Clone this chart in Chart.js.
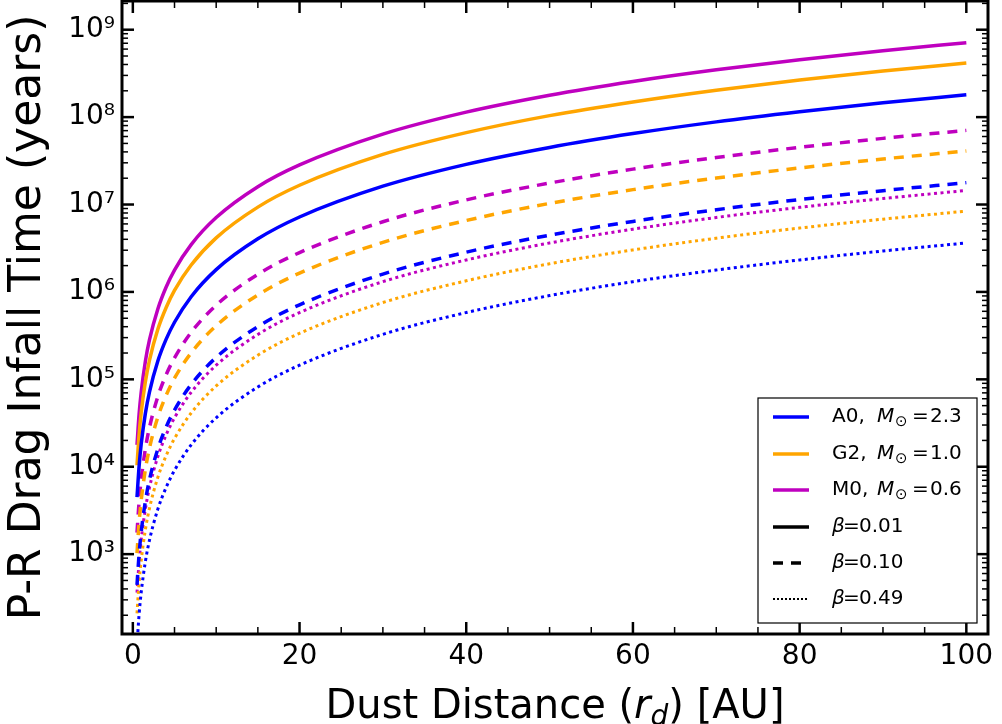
<!DOCTYPE html>
<html>
<head>
<meta charset="utf-8">
<title>P-R Drag Infall Time</title>
<script src="https://cdn.jsdelivr.net/npm/chart.js@4.4.1/dist/chart.umd.min.js"></script>
<style>
  html, body { margin: 0; padding: 0; background: #fff; }
</style>
</head>
<body>
<canvas id="prChart" width="1002" height="724"></canvas>
<script>
// dust distance in AU
const distanceAU = [0.5, 0.75, 1, 1.5, 2, 3, 4, 5, 7, 10, 15, 20, 30, 40, 50, 60, 70, 80, 90, 100];

// infall time in years
const a0Beta001 = [4500, 10100, 18000, 40500, 72000, 162000, 288000, 450000, 882000, 1.8e6, 4.05e6, 7.2e6, 1.62e7, 2.88e7, 4.5e7, 6.48e7, 8.82e7, 1.15e8, 1.46e8, 1.8e8];
const g2Beta001 = [10400, 23300, 41500, 93400, 166000, 374000, 664000, 1.04e6, 2.03e6, 4.15e6, 9.34e6, 1.66e7, 3.74e7, 6.64e7, 1.04e8, 1.49e8, 2.03e8, 2.66e8, 3.36e8, 4.15e8];
const m0Beta001 = [17800, 39900, 71000, 160000, 284000, 639000, 1.14e6, 1.78e6, 3.48e6, 7.1e6, 1.6e7, 2.84e7, 6.39e7, 1.14e8, 1.78e8, 2.56e8, 3.48e8, 4.54e8, 5.75e8, 7.1e8];

const a0Beta010 = [445, 1000, 1780, 4000, 7120, 16000, 28500, 44500, 87200, 178000, 401000, 712000, 1.6e6, 2.85e6, 4.45e6, 6.41e6, 8.72e6, 1.14e7, 1.44e7, 1.78e7];
const g2Beta010 = [1030, 2310, 4100, 9230, 16400, 36900, 65600, 103000, 201000, 410000, 923000, 1.64e6, 3.69e6, 6.56e6, 1.03e7, 1.48e7, 2.01e7, 2.62e7, 3.32e7, 4.1e7];
const m0Beta010 = [1760, 3970, 7050, 15900, 28200, 63500, 113000, 176000, 345000, 705000, 1.59e6, 2.82e6, 6.35e6, 1.13e7, 1.76e7, 2.54e7, 3.45e7, 4.51e7, 5.71e7, 7.05e7];

const a0Beta049 = [91, 204, 363, 817, 1450, 3270, 5810, 9080, 17800, 36300, 81700, 145000, 327000, 581000, 908000, 1.31e6, 1.78e6, 2.32e6, 2.94e6, 3.63e6];
const g2Beta049 = [210, 473, 840, 1890, 3360, 7560, 13400, 21000, 41200, 84000, 189000, 336000, 756000, 1.34e6, 2.1e6, 3.02e6, 4.12e6, 5.38e6, 6.8e6, 8.4e6];
const m0Beta049 = [363, 816, 1450, 3260, 5800, 13100, 23200, 36300, 71100, 145000, 326000, 580000, 1.31e6, 2.32e6, 3.63e6, 5.22e6, 7.11e6, 9.28e6, 1.17e7, 1.45e7];

const xTickLabels = [0, 20, 40, 60, 80, 100];
const xMinorTicks = [0, 5, 10, 15, 20, 25, 30, 35, 40, 45, 50, 55, 60, 65, 70, 75, 80, 85, 90, 95, 100];

const BLUE = "#0000ff";
const ORANGE = "#ffa500";
const MAGENTA = "#bf00bf";
const DASHED = [10, 8];
const DOTTED = [3, 3.5];

const SUP = { "0": "\u2070", "1": "\u00b9", "2": "\u00b2", "3": "\u00b3", "4": "\u2074",
  "5": "\u2075", "6": "\u2076", "7": "\u2077", "8": "\u2078", "9": "\u2079", "-": "\u207b" };

function toPoints(values) {
  return values.map((v, i) => ({ x: distanceAU[i], y: v }));
}

function makeDataset(values, color, dash, width) {
  return {
    data: toPoints(values),
    borderColor: color,
    borderWidth: width,
    borderDash: dash,
    pointRadius: 0,
    fill: false,
    cubicInterpolationMode: "monotone",
  };
}

function isPow10(v) {
  const e = Math.round(Math.log10(v));
  return Math.abs(v - Math.pow(10, e)) < 1e-6 * v;
}

function logTickValues(min, max) {
  const out = [];
  for (let e = Math.floor(Math.log10(min)); e <= Math.ceil(Math.log10(max)); e++) {
    for (let k = 1; k <= 9; k++) {
      const v = k * Math.pow(10, e);
      if (v >= min && v <= max) out.push(v);
    }
  }
  return out;
}

function strokeLine(ctx, x1, y1, x2, y2) {
  ctx.beginPath();
  ctx.moveTo(x1, y1);
  ctx.lineTo(x2, y2);
  ctx.stroke();
}

// draws a run of text pieces (font, dy) centred on cx
function drawRun(ctx, cx, y, parts) {
  let total = 0;
  parts.forEach((p) => { ctx.font = p.font; total += ctx.measureText(p.t).width; });
  let x = cx - total / 2;
  parts.forEach((p) => {
    ctx.font = p.font;
    ctx.fillText(p.t, x, y + (p.dy || 0));
    x += ctx.measureText(p.t).width;
  });
}

// inward ticks on all four sides, heavy frame, x title and legend box
const frameTicks = {
  id: "frameTicks",
  afterDraw(chart) {
    const { ctx, chartArea: a, scales } = chart;
    ctx.save();
    ctx.setLineDash([]);
    ctx.strokeStyle = "#000";
    ctx.lineCap = "butt";

    xMinorTicks.forEach((v) => {
      const px = scales.x.getPixelForValue(v);
      const major = xTickLabels.includes(v);
      ctx.lineWidth = major ? 2.5 : 1.5;
      const len = major ? 12 : 7;
      strokeLine(ctx, px, a.bottom, px, a.bottom - len);
      strokeLine(ctx, px, a.top, px, a.top + len);
    });

    logTickValues(scales.y.min, scales.y.max).forEach((v) => {
      const py = scales.y.getPixelForValue(v);
      const major = isPow10(v);
      ctx.lineWidth = major ? 2.5 : 1.5;
      const len = major ? 12 : 6;
      strokeLine(ctx, a.left, py, a.left + len, py);
      strokeLine(ctx, a.right, py, a.right - len, py);
    });

    ctx.lineWidth = 3;
    ctx.strokeRect(a.left, a.top, a.right - a.left, a.bottom - a.top);

    // x axis title with italic r and subscript d
    ctx.fillStyle = "#000";
    ctx.textBaseline = "alphabetic";
    drawRun(ctx, (a.left + a.right) / 2, 718, [
      { t: "Dust Distance (", font: "40px 'DejaVu Sans'" },
      { t: "r", font: "italic 40px 'DejaVu Sans'" },
      { t: "d", font: "italic 28px 'DejaVu Sans'", dy: 7 },
      { t: ") [AU]", font: "40px 'DejaVu Sans'" },
    ]);
    ctx.restore();

    drawLegend(ctx);
  },
};

function drawLegend(ctx) {
  const bx = 758, by = 398, bw = 219, bh = 225;
  const rowY = [417, 454, 490, 527, 563, 599];
  const sx1 = 773, sx2 = 809, tx = 832;
  const normal = "20px 'DejaVu Sans'";
  const italic = "italic 20px 'DejaVu Sans'";
  const small = "15px 'DejaVu Sans'";

  ctx.save();
  ctx.fillStyle = "#fff";
  ctx.fillRect(bx, by, bw, bh);
  ctx.strokeStyle = "#000";
  ctx.lineWidth = 1.2;
  ctx.strokeRect(bx, by, bw, bh);

  const stars = [
    { name: "A0,", mass: "2.3", color: BLUE },
    { name: "G2,", mass: "1.0", color: ORANGE },
    { name: "M0,", mass: "0.6", color: MAGENTA },
  ];
  const betas = [
    { b: "0.01", dash: [], w: 3.5 },
    { b: "0.10", dash: DASHED, w: 3.5 },
    { b: "0.49", dash: [2, 2], w: 2 },
  ];

  ctx.textBaseline = "middle";
  ctx.fillStyle = "#000";
  stars.forEach((s, i) => {
    const y = rowY[i];
    ctx.strokeStyle = s.color;
    ctx.lineWidth = 3.5;
    ctx.setLineDash([]);
    strokeLine(ctx, sx1, y, sx2, y);
    ctx.font = normal;
    ctx.fillText(s.name, tx, y);
    ctx.font = italic;
    ctx.fillText("M", tx + 45, y);
    ctx.font = small;
    ctx.fillText("\u2299", tx + 63, y + 5);
    ctx.font = normal;
    ctx.fillText("=", tx + 80, y);
    ctx.fillText(s.mass, tx + 98, y);
  });
  betas.forEach((b, i) => {
    const y = rowY[i + 3];
    ctx.strokeStyle = "#000";
    ctx.lineWidth = b.w;
    ctx.setLineDash(b.dash);
    strokeLine(ctx, sx1, y, sx2, y);
    ctx.font = italic;
    ctx.fillText("\u03b2", tx, y);
    ctx.font = normal;
    ctx.fillText("=", tx + 11, y);
    ctx.fillText(b.b, tx + 27, y);
  });
  ctx.restore();
}

const datasets = [
  makeDataset(a0Beta001, BLUE, [], 3.5),
  makeDataset(a0Beta010, BLUE, DASHED, 3.5),
  makeDataset(a0Beta049, BLUE, DOTTED, 3),
  makeDataset(g2Beta001, ORANGE, [], 3.5),
  makeDataset(g2Beta010, ORANGE, DASHED, 3.5),
  makeDataset(g2Beta049, ORANGE, DOTTED, 3),
  makeDataset(m0Beta001, MAGENTA, [], 3.5),
  makeDataset(m0Beta010, MAGENTA, DASHED, 3.5),
  makeDataset(m0Beta049, MAGENTA, DOTTED, 3),
];

new Chart(document.getElementById("prChart"), {
  type: "line",
  data: { datasets },
  plugins: [frameTicks],
  options: {
    responsive: false,
    animation: false,
    layout: { padding: { top: 1, right: 14, left: 0, bottom: 0 } },
    plugins: { legend: { display: false }, tooltip: { enabled: false } },
    scales: {
      x: {
        type: "linear",
        min: -1.3,
        max: 102.6,
        grid: { display: false, drawTicks: false },
        border: { display: false },
        afterFit: (scale) => {
          scale.height = 90;
          scale.paddingLeft = 0;
          scale.paddingRight = 0;
        },
        ticks: {
          stepSize: 20,
          includeBounds: false,
          autoSkip: false,
          maxRotation: 0,
          padding: 6,
          color: "#000",
          font: { family: "'DejaVu Sans'", size: 28 },
          callback: (value) => (xTickLabels.includes(value) ? String(value) : ""),
        },
        title: { display: false },
      },
      y: {
        type: "logarithmic",
        min: 122,
        max: 2.13e9,
        grid: { display: false, drawTicks: false },
        border: { display: false },
        afterBuildTicks: (scale) => {
          scale.ticks = logTickValues(scale.min, scale.max)
            .filter((v) => isPow10(v))
            .map((v) => ({ value: v, major: true }));
        },
        afterFit: (scale) => {
          scale.width = 122;
          scale.paddingTop = 0;
          scale.paddingBottom = 0;
        },
        ticks: {
          autoSkip: false,
          padding: 7,
          color: "#000",
          font: { family: "'DejaVu Sans'", size: 28 },
          callback: (value) => {
            if (!isPow10(value)) return "";
            const e = String(Math.round(Math.log10(value)));
            return "10" + e.split("").map((c) => SUP[c]).join("");
          },
        },
        title: {
          display: true,
          text: "P-R Drag Infall Time (years)",
          color: "#000",
          font: { family: "'DejaVu Sans'", size: 44, lineHeight: 1 },
          padding: { top: 7, bottom: 0 },
        },
      },
    },
  },
});
</script>
</body>
</html>
